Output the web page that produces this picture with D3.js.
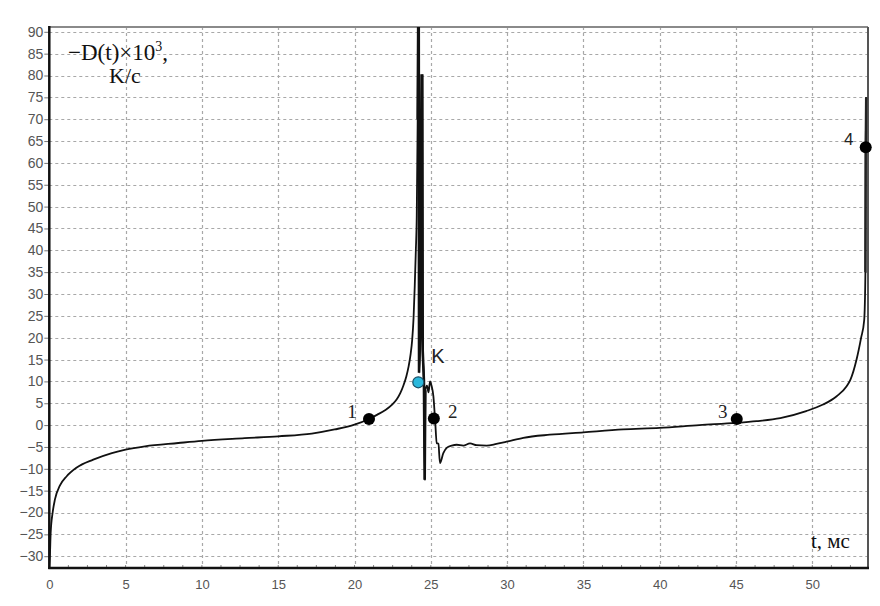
<!DOCTYPE html>
<html>
<head>
<meta charset="utf-8">
<script src="https://cdn.jsdelivr.net/npm/d3@7"></script>
<style>
  html, body { margin: 0; padding: 0; background: #fff; }
  svg { display: block; }
</style>
</head>
<body>
<svg id="chart" width="880" height="606"></svg>
<script>
// ---- data ----
const tValues = [0.0, 0.04, 0.09, 0.22, 0.37, 0.7, 1.14, 1.8, 2.88, 4.1, 5, 6.27, 8.45, 10, 12.8, 15, 17.2, 18.7, 20, 20.95,
  21.5, 22.0, 22.5, 22.77, 23.0, 23.2, 23.4, 23.55, 23.68, 23.78, 23.87, 23.95, 24.02, 24.08, 24.14, 24.18, 24.21, 24.23,
  24.3, 24.4, 24.44, 24.47, 24.55, 24.6, 24.64, 24.75, 24.85, 24.95, 25.05, 25.17, 25.28, 25.39, 25.5, 25.6, 25.82,
  26.04, 26.37, 26.7, 27.13, 27.57, 28.0, 28.66, 29.3, 29.96, 31.06, 32.8, 35, 37.6, 40, 42.6, 45, 46.35, 47.9, 49.6,
  50.7, 51.6, 52.25, 52.5, 52.9, 53.2, 53.4, 53.48, 53.5, 53.53];
const dValues = [-32.5, -30, -24.6, -20, -17, -13.8, -11.7, -9.7, -7.9, -6.4, -5.6, -4.85, -4.1, -3.6, -3.0, -2.56, -1.95, -1.0, 0.1, 1.4,
  2.4, 3.4, 4.8, 5.9, 7.3, 9.0, 11.2, 13.5, 16.3, 19.5, 24.5, 32, 40, 48, 70, 96, 96, 12,
  20, 80, 80, 17, 10, -12.5, 8, 9, 7.5, 10, 9, 6.6, 1.3, -4.1, -4.3, -8.7, -6.4,
  -5.2, -4.7, -4.5, -4.7, -4.2, -4.6, -4.7, -4.3, -3.8, -2.9, -2.2, -1.65, -1.0, -0.65, 0.0, 0.5, 0.9, 1.6, 3.2,
  4.7, 6.6, 8.9, 10.4, 15, 20, 24, 35, 63, 75];
const markerT = [20.95, 25.2, 45.05, 53.5];
const markerV = [1.4, 1.5, 1.4, 63.6];
const markerLabels = ["1", "2", "3", "4"];
const kPointT = [24.18];
const kPointV = [9.8];
const kLabel = "K";
const yTicks = [-30, -25, -20, -15, -10, -5, 0, 5, 10, 15, 20, 25, 30, 35, 40, 45, 50, 55, 60, 65, 70, 75, 80, 85, 90];
const xTicks = [0, 5, 10, 15, 20, 25, 30, 35, 40, 45, 50];
const xMinorTicks = d3.range(0, 53.6, 1.25);

// ---- layout ----
const svg = d3.select("#chart");
const L = 49.3, R = 868, T = 27, B = 568;
const x = d3.scaleLinear().domain([0, 53.65]).range([L, R]);
const y = d3.scaleLinear().domain([-32.7, 91.1]).range([B, T]);

svg.append("defs").append("clipPath").attr("id", "plotclip")
  .append("rect").attr("x", L).attr("y", T).attr("width", R - L).attr("height", B - T);

// grid
const grid = svg.append("g");
grid.selectAll("line.h").data(yTicks).join("line")
  .attr("x1", L).attr("x2", R)
  .attr("y1", d => Math.round(y(d)) + 0.5).attr("y2", d => Math.round(y(d)) + 0.5)
  .attr("stroke", "#a8a8a8").attr("stroke-width", 1.2).attr("stroke-dasharray", "3,3");
grid.selectAll("line.v").data(xTicks.filter(d => d > 0)).join("line")
  .attr("y1", T).attr("y2", B)
  .attr("x1", d => Math.round(x(d)) + 0.5).attr("x2", d => Math.round(x(d)) + 0.5)
  .attr("stroke", "#a8a8a8").attr("stroke-width", 1.2).attr("stroke-dasharray", "3,3");

// minor ticks on x axis
svg.append("g").selectAll("line").data(xMinorTicks).join("line")
  .attr("x1", d => x(d)).attr("x2", d => x(d))
  .attr("y1", B - 3).attr("y2", B)
  .attr("stroke", "#888").attr("stroke-width", 1);

// frame
svg.append("line").attr("x1", L).attr("x2", R).attr("y1", T).attr("y2", T)
  .attr("stroke", "#8a8a8a").attr("stroke-width", 2);
svg.append("line").attr("x1", R).attr("x2", R).attr("y1", T).attr("y2", B)
  .attr("stroke", "#555").attr("stroke-width", 2);

// axes
const yAxis = d3.axisLeft(y).tickValues(yTicks).tickSize(5).tickFormat(d3.format("d"));
const gy = svg.append("g").attr("transform", `translate(${L},0)`).call(yAxis);
gy.select(".domain").remove();
gy.selectAll(".tick line").attr("stroke", "#777");
gy.selectAll(".tick text").attr("x", -6)
  .style("font-family", "'Liberation Sans', Arial, sans-serif").style("font-size", "14px").attr("fill", "#555");

const xAxis = d3.axisBottom(x).tickValues(xTicks).tickSize(0).tickFormat(d3.format("d"));
const gx = svg.append("g").attr("transform", `translate(0,${B})`).call(xAxis);
gx.select(".domain").remove();
gx.selectAll(".tick text").attr("y", 12)
  .style("font-family", "'Liberation Sans', Arial, sans-serif").style("font-size", "13px").attr("fill", "#555");

svg.append("line").attr("x1", L).attr("x2", L).attr("y1", T - 1).attr("y2", B + 1)
  .attr("stroke", "#111").attr("stroke-width", 2.5);
svg.append("line").attr("x1", L - 1).attr("x2", R + 1).attr("y1", B).attr("y2", B)
  .attr("stroke", "#111").attr("stroke-width", 2.5);

// curve
const data = tValues.map((t, i) => ({ t, v: dValues[i] }));
const line = d3.line().x(d => x(d.t)).y(d => y(d.v)).curve(d3.curveMonotoneX);
const plot = svg.append("g").attr("clip-path", "url(#plotclip)");
plot.append("path").datum(data).attr("d", line)
  .attr("fill", "none").attr("stroke", "#111").attr("stroke-width", 1.8).attr("stroke-linejoin", "round");
plot.append("path").datum(data.filter(d => d.t >= 24.12 && d.t <= 24.66)).attr("d", d3.line().x(d => x(d.t)).y(d => y(d.v)))
  .attr("fill", "none").attr("stroke", "#111").attr("stroke-width", 2.6);
plot.append("path").datum(data.filter(d => d.t >= 53.45)).attr("d", d3.line().x(d => x(d.t)).y(d => y(d.v)))
  .attr("fill", "none").attr("stroke", "#222").attr("stroke-width", 2.4);

// markers
const markers = markerT.map((t, i) => ({ t, v: markerV[i], label: markerLabels[i] }));
svg.append("g").selectAll("circle").data(markers).join("circle")
  .attr("cx", d => x(d.t)).attr("cy", d => y(d.v)).attr("r", 6).attr("fill", "#000");
const labelOffsets = [[-17, 0], [19, 0], [-14, 0], [-17, -1]];
svg.append("g").selectAll("text").data(markers).join("text")
  .attr("x", (d, i) => x(d.t) + labelOffsets[i][0])
  .attr("y", (d, i) => y(d.v) + labelOffsets[i][1] - 1)
  .attr("text-anchor", "middle")
  .style("font-family", (d, i) => i === 3 ? "'Liberation Sans', Arial, sans-serif" : "'Liberation Serif', 'Times New Roman', serif")
  .style("font-size", (d, i) => i === 3 ? "17px" : "19px")
  .attr("fill", "#222")
  .text(d => d.label);

svg.append("circle").attr("cx", x(kPointT[0])).attr("cy", y(kPointV[0])).attr("r", 5.5)
  .attr("fill", "#2bb8dc").attr("stroke", "#1a4f66").attr("stroke-width", 1.2);
svg.append("text").attr("x", x(kPointT[0]) + 13).attr("y", y(kPointV[0]) - 19)
  .style("font-family", "'Liberation Sans', Arial, sans-serif").style("font-size", "20px").attr("fill", "#222")
  .text(kLabel);

// titles
const serif = "'Liberation Serif', 'Times New Roman', serif";
const yTitle = svg.append("text").attr("x", 68).attr("y", 60)
  .style("font-family", serif).style("font-size", "23px").attr("fill", "#111");
yTitle.append("tspan").text("\u2212D(t)\u00d710");
yTitle.append("tspan").attr("dy", -9).style("font-size", "14px").text("3");
yTitle.append("tspan").attr("dy", 9).text(",");
svg.append("text").attr("x", 109).attr("y", 83)
  .style("font-family", serif).style("font-size", "22px").attr("fill", "#111").text("K/c");
svg.append("text").attr("x", 811).attr("y", 548)
  .style("font-family", serif).style("font-size", "21px").attr("fill", "#111").text("t, мс");
</script>
</body>
</html>
